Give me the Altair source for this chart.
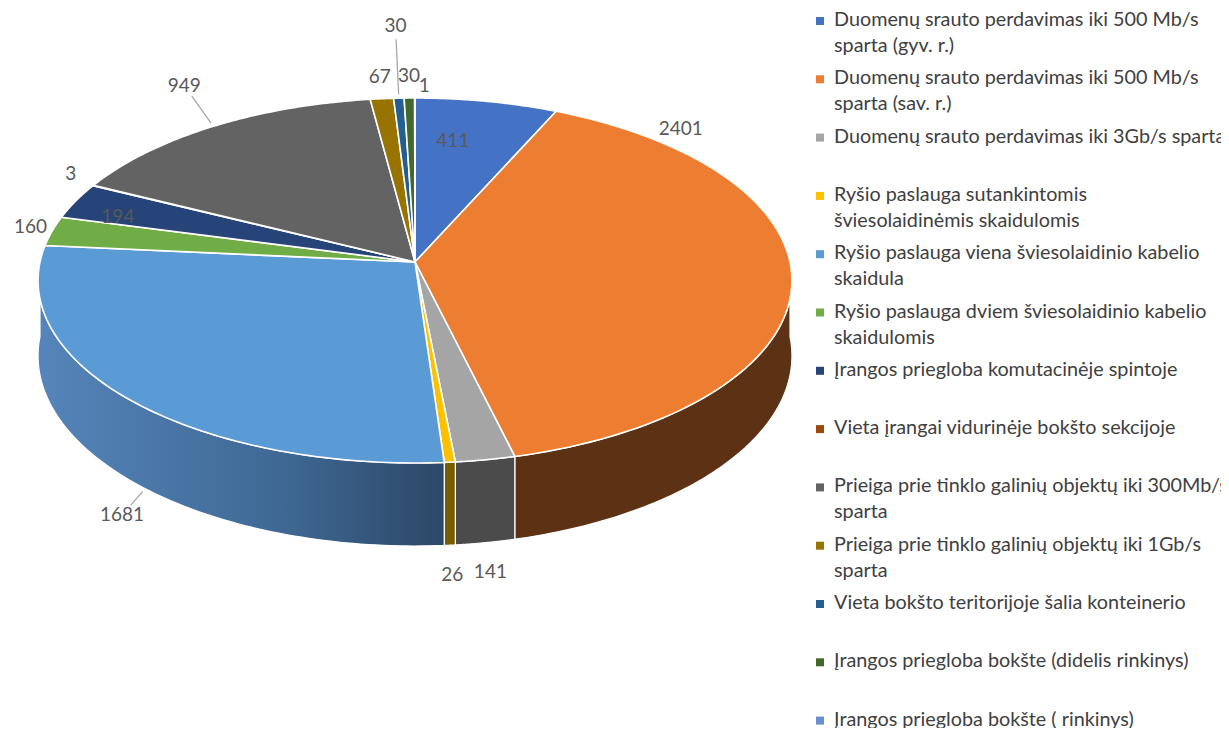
import altair as alt
import pandas as pd

# ---- data ----
categories = [
    "Duomenų srauto perdavimas iki 500 Mb/s sparta (gyv. r.)",
    "Duomenų srauto perdavimas iki 500 Mb/s sparta (sav. r.)",
    "Duomenų srauto perdavimas iki 3Gb/s sparta",
    "Ryšio paslauga sutankintomis šviesolaidinėmis skaidulomis",
    "Ryšio paslauga viena šviesolaidinio kabelio skaidula",
    "Ryšio paslauga dviem šviesolaidinio kabelio skaidulomis",
    "Įrangos priegloba komutacinėje spintoje",
    "Vieta įrangai vidurinėje bokšto sekcijoje",
    "Prieiga prie tinklo galinių objektų iki 300Mb/s sparta",
    "Prieiga prie tinklo galinių objektų iki 1Gb/s sparta",
    "Vieta bokšto teritorijoje šalia konteinerio",
    "Įrangos priegloba bokšte (didelis rinkinys)",
    "Įrangos priegloba bokšte ( rinkinys)",
]
values = [411, 2401, 141, 26, 1681, 160, 194, 3, 949, 67, 30, 30, 1]

legend_text = [
    "Duomenų srauto perdavimas iki 500 Mb/s\nsparta (gyv. r.)",
    "Duomenų srauto perdavimas iki 500 Mb/s\nsparta (sav. r.)",
    "Duomenų srauto perdavimas iki 3Gb/s sparta",
    "Ryšio paslauga sutankintomis\nšviesolaidinėmis skaidulomis",
    "Ryšio paslauga viena šviesolaidinio kabelio\nskaidula",
    "Ryšio paslauga dviem šviesolaidinio kabelio\nskaidulomis",
    "Įrangos priegloba komutacinėje spintoje",
    "Vieta įrangai vidurinėje bokšto sekcijoje",
    "Prieiga prie tinklo galinių objektų iki 300Mb/s\nsparta",
    "Prieiga prie tinklo galinių objektų iki 1Gb/s\nsparta",
    "Vieta bokšto teritorijoje šalia konteinerio",
    "Įrangos priegloba bokšte (didelis rinkinys)",
    "Įrangos priegloba bokšte ( rinkinys)",
]

# ---- styles ----
slice_colors = ["#4472C4", "#ED7D31", "#A5A5A5", "#FFC000", "#5B9BD5", "#70AD47",
                "#264478", "#9E480E", "#636363", "#997300", "#255E91", "#43682B", "#698ED0"]
side_colors = ["#2A4679", "#5C3114", "#4B4B4B", "#7A5C00", "#3A6591", "#44692B",
               "#172A4A", "#5E2B08", "#3B3B3B", "#5C4500", "#163958", "#283F1A", "#41577F"]
# label placement style: position along slice (0..1), radial offset (px, negative = inside)
label_frac = [0.3, 0.15, 0.5, 0.5, 0.46, 0.5, 0.5, 0.5, 0.5, 0.5, 0.5, 0.5, 0.5]
label_off = [-42, 22, 30, 30, 35, 22, -45, 25, 50, 22, 72, 22, 12]
label_align = ["center"] * 12 + ["left"]

W, H = 1213, 720
CX, CY = 407, 254          # hub of the pie
RX, RY = 375, 180.6        # rim radii
K = 0.1014                 # perspective factor
DEPTH = 74.6               # thickness of the pie
N = 90                     # points per rim arc
FONT = "Lato"
LEG_TOP, LEG_STEP = 13, 58.3

df = pd.DataFrame({
    "cat": categories, "value": values, "idx": list(range(len(values))),
    "legend": legend_text, "frac": label_frac, "off": label_off, "align": label_align,
})

xs = alt.Scale(domain=[0, W], nice=False, zero=False)
ys = alt.Scale(domain=[0, H], nice=False, zero=False, reverse=True)
cscale = alt.Scale(domain=categories, range=slice_colors)
sscale = alt.Scale(domain=categories, range=side_colors)

base = (
    alt.Chart(df)
    .transform_joinaggregate(total="sum(value)")
    .transform_window(cum="sum(value)", sort=[alt.SortField("idx", order="ascending")], frame=[None, 0])
    .transform_calculate(a0="2*PI*(datum.cum-datum.value)/datum.total")
    .transform_calculate(a1="2*PI*datum.cum/datum.total")
)

# ---- top faces ----
top = (
    base.transform_calculate(ks=f"sequence(0,{N + 3})")
    .transform_flatten(["ks"], as_=["k"])
    .transform_calculate(th=f"datum.a0 + clamp(datum.k-1,0,{N})/{N}*(datum.a1-datum.a0)")
    .transform_calculate(hub=f"datum.k==0 || datum.k=={N + 2}")
    .transform_calculate(s=f"1/(1+{K}*cos(datum.th))")
    .transform_calculate(px=f"datum.hub ? {CX} : {CX}+{RX}*sin(datum.th)*datum.s")
    .transform_calculate(py=f"datum.hub ? {CY} : {CY}-{RY}*cos(datum.th)*datum.s")
    .mark_line(filled=True, stroke="white", strokeWidth=1.6, strokeJoin="round")
    .encode(
        x=alt.X("px:Q", scale=xs, axis=None),
        y=alt.Y("py:Q", scale=ys, axis=None),
        color=alt.Color("cat:N", scale=cscale, legend=None),
        order=alt.Order("k:Q"),
    )
)

# ---- side walls (front half) ----
side = (
    base.transform_calculate(s0="max(datum.a0, PI/2)")
    .transform_calculate(s1="min(datum.a1, 3*PI/2)")
    .transform_filter("datum.s1 > datum.s0")
    .transform_calculate(ks=f"sequence(0,{2 * N + 3})")
    .transform_flatten(["ks"], as_=["k"])
    .transform_calculate(low=f"datum.k > {N} && datum.k <= {2 * N + 1}")
    .transform_calculate(t=f"datum.k <= {N} ? datum.k/{N} : (datum.low ? 1-(datum.k-{N}-1)/{N} : 0)")
    .transform_calculate(th="datum.s0 + datum.t*(datum.s1-datum.s0)")
    .transform_calculate(s=f"1/(1+{K}*cos(datum.th))")
    .transform_calculate(px=f"{CX}+{RX}*sin(datum.th)*datum.s")
    .transform_calculate(py=f"{CY}-{RY}*cos(datum.th)*datum.s + (datum.low ? {DEPTH}*datum.s : 0)")
)
side_solid = side.transform_filter("datum.idx != 4").mark_line(
    filled=True, stroke="white", strokeWidth=1.2, strokeJoin="round"
).encode(
    x=alt.X("px:Q", scale=xs, axis=None),
    y=alt.Y("py:Q", scale=ys, axis=None),
    color=alt.Color("cat:N", scale=sscale, legend=None),
    order=alt.Order("k:Q"),
)
side_grad = side.transform_filter("datum.idx == 4").mark_line(
    filled=True, stroke="white", strokeWidth=1.2, strokeJoin="round",
    fill=alt.LinearGradient(
        gradient="linear", x1=0, x2=1, y1=0, y2=0,
        stops=[alt.GradientStop(color="#5585BA", offset=0),
               alt.GradientStop(color="#3F6894", offset=0.6),
               alt.GradientStop(color="#2C4866", offset=1)],
    ),
).encode(
    x=alt.X("px:Q", scale=xs, axis=None),
    y=alt.Y("py:Q", scale=ys, axis=None),
    detail="cat:N",
    order=alt.Order("k:Q"),
)

# ---- data labels ----
lab = (
    base.transform_calculate(m="datum.a0 + datum.frac*(datum.a1-datum.a0)")
    .transform_calculate(s=f"1/(1+{K}*cos(datum.m))")
    .transform_calculate(rx0=f"{CX}+{RX}*sin(datum.m)*datum.s")
    .transform_calculate(ry0=f"{CY}-{RY}*cos(datum.m)*datum.s + (cos(datum.m)<0 && datum.off>0 ? {DEPTH}*datum.s : 0)")
    .transform_calculate(lx="datum.rx0 + datum.off*sin(datum.m)")
    .transform_calculate(ly="datum.ry0 - datum.off*cos(datum.m)")
)
txt_enc = dict(
    x=alt.X("lx:Q", scale=xs, axis=None),
    y=alt.Y("ly:Q", scale=ys, axis=None),
    text=alt.Text("value:Q"),
)
labels_c = lab.transform_filter("datum.align == 'center'").mark_text(
    align="center", baseline="middle", fontSize=19, font=FONT, color="#595959"
).encode(**txt_enc)
labels_l = lab.transform_filter("datum.align == 'left'").mark_text(
    align="left", baseline="middle", dx=4, fontSize=19, font=FONT, color="#595959"
).encode(**txt_enc)

leaders = (
    lab.transform_filter("datum.off > 30")
    .transform_calculate(qx1="datum.rx0 + 4*sin(datum.m)")
    .transform_calculate(qy1="datum.ry0 - 4*cos(datum.m)")
    .transform_calculate(qx2="datum.rx0 + (datum.off-13)*sin(datum.m)")
    .transform_calculate(qy2="datum.ry0 - (datum.off-13)*cos(datum.m)")
    .mark_rule(color="#A6A6A6", strokeWidth=1.3)
    .encode(
        x=alt.X("qx1:Q", scale=xs, axis=None),
        y=alt.Y("qy1:Q", scale=ys, axis=None),
        x2="qx2:Q",
        y2="qy2:Q",
    )
)

# ---- legend ----
leg = alt.Chart(df).transform_calculate(gy=f"{LEG_TOP} + datum.idx*{LEG_STEP}")
leg_sq = leg.mark_square(size=64, opacity=1).encode(
    x=alt.value(812),
    y=alt.Y("gy:Q", scale=ys, axis=None),
    color=alt.Color("cat:N", scale=cscale, legend=None),
)
leg_txt = leg.mark_text(
    align="left", baseline="top", dy=-11, lineBreak="\n", lineHeight=26,
    fontSize=19.8, font=FONT, color="#404040",
).encode(
    x=alt.value(826),
    y=alt.Y("gy:Q", scale=ys, axis=None),
    text="legend:N",
)

chart = (
    alt.layer(side_solid, side_grad, top, leaders, labels_c, labels_l, leg_sq, leg_txt)
    .resolve_scale(color="independent")
    .properties(width=W, height=H, padding=0, autosize=alt.AutoSizeParams(type="none"),
                background="white")
    .configure_view(stroke=None)
)

chart.save("out.html", embed_options={"renderer": "svg", "actions": False})
